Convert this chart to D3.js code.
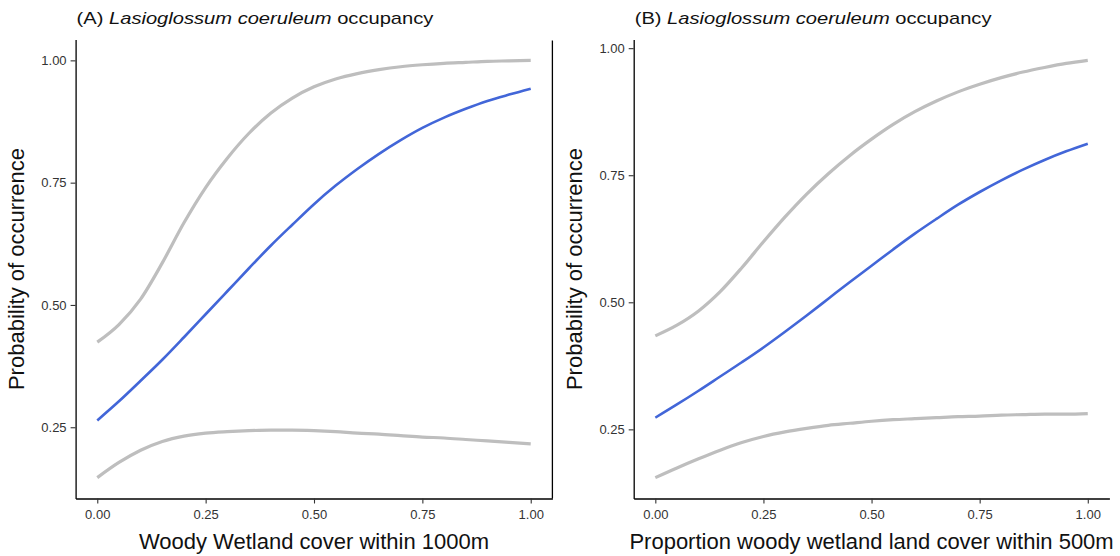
<!DOCTYPE html>
<html>
<head>
<meta charset="utf-8">
<script src="https://cdn.jsdelivr.net/npm/d3@7/dist/d3.min.js"></script>
<style>
  html, body { margin: 0; padding: 0; background: #fff; }
  svg { display: block; font-family: "Liberation Sans", Arial, sans-serif; }
</style>
</head>
<body>
<svg id="chart" width="1120" height="556"></svg>
<script>
// ---------- data ----------
const xGrid = [0, 0.05, 0.1, 0.15, 0.2, 0.25, 0.3, 0.35, 0.4, 0.45, 0.5,
               0.55, 0.6, 0.65, 0.7, 0.75, 0.8, 0.85, 0.9, 0.95, 1.0];

// Panel A: Woody wetland cover within 1000m
const aUpper = [0.424, 0.460, 0.512, 0.586, 0.668, 0.740, 0.800, 0.851, 0.892, 0.923, 0.946,
                0.962, 0.973, 0.981, 0.987, 0.991, 0.994, 0.996, 0.998, 0.999, 1.000];
const aMean  = [0.264, 0.303, 0.345, 0.388, 0.434, 0.481, 0.528, 0.575, 0.621, 0.664, 0.706,
                0.744, 0.778, 0.809, 0.837, 0.862, 0.883, 0.901, 0.917, 0.930, 0.942];
const aLower = [0.147, 0.178, 0.203, 0.221, 0.232, 0.238, 0.241, 0.243, 0.244, 0.244, 0.243,
                0.241, 0.238, 0.236, 0.233, 0.230, 0.228, 0.225, 0.222, 0.219, 0.216];

// Panel B: Proportion woody wetland land cover within 500m
const bUpper = [0.434, 0.455, 0.483, 0.521, 0.568, 0.619, 0.668, 0.713, 0.753, 0.789, 0.821,
                0.850, 0.875, 0.896, 0.914, 0.929, 0.942, 0.953, 0.962, 0.970, 0.976];
const bMean  = [0.273, 0.299, 0.326, 0.354, 0.382, 0.411, 0.442, 0.474, 0.507, 0.540, 0.572,
                0.604, 0.635, 0.664, 0.692, 0.717, 0.740, 0.761, 0.780, 0.797, 0.812];
const bLower = [0.155, 0.174, 0.192, 0.209, 0.224, 0.236, 0.245, 0.252, 0.258, 0.262, 0.266,
                0.269, 0.271, 0.273, 0.275, 0.276, 0.278, 0.279, 0.280, 0.280, 0.281];

const xTicks = [0, 0.25, 0.5, 0.75, 1.0];
const yTicks = [0.25, 0.5, 0.75, 1.0];

const titleLetters = ["(A)", "(B)"];
const speciesName = "Lasioglossum coeruleum";
const titleSuffix = " occupancy";
const xTitles = ["Woody Wetland cover within 1000m", "Proportion woody wetland land cover within 500m"];
const yTitle = "Probability of occurrence";

// ---------- layout ----------
const svg = d3.select("#chart");
const panels = [
  { left: 75.6, right: 552.4, upper: aUpper, mean: aMean, lower: aLower, border: true },
  { left: 633.7, right: 1109.4, upper: bUpper, mean: bMean, lower: bLower, border: false }
];
const plotTop = 39.5, plotBottom = 498.5;

function expand(lo, hi) { const r = hi - lo; return [lo - 0.05 * r, hi + 0.05 * r]; }

panels.forEach((p, i) => {
  const g = svg.append("g");
  const allY = p.upper.concat(p.mean, p.lower);
  const x = d3.scaleLinear().domain(expand(d3.min(xGrid), d3.max(xGrid))).range([p.left, p.right]);
  const y = d3.scaleLinear().domain(expand(d3.min(allY), d3.max(allY))).range([plotBottom, plotTop]);

  const line = d3.line().x((d, j) => x(xGrid[j])).y(d => y(d)).curve(d3.curveMonotoneX);

  // grey CI lines
  [p.upper, p.lower].forEach(s => {
    g.append("path").datum(s).attr("d", line)
      .attr("fill", "none").attr("stroke", "#bebebe").attr("stroke-width", 3.2)
      .attr("stroke-linecap", "butt");
  });
  g.append("path").datum(p.mean).attr("d", line)
    .attr("fill", "none").attr("stroke", "#4266d8").attr("stroke-width", 2.6);

  // axes
  const xAxis = g.append("g").attr("transform", `translate(0,${plotBottom})`)
    .call(d3.axisBottom(x).tickValues(xTicks).tickFormat(d3.format(".2f"))
      .tickSize(5).tickSizeOuter(0).tickPadding(6));
  const yAxis = g.append("g").attr("transform", `translate(${p.left},0)`)
    .call(d3.axisLeft(y).tickValues(yTicks).tickFormat(d3.format(".2f"))
      .tickSize(5).tickSizeOuter(0).tickPadding(4));
  [xAxis, yAxis].forEach(ax => {
    ax.select(".domain").attr("stroke", "#000").attr("stroke-width", 1.3);
    ax.selectAll(".tick line").attr("stroke", "#333").attr("stroke-width", 1.1);
    ax.selectAll(".tick text").attr("fill", "#333").attr("font-size", 13)
      .attr("font-family", "'Liberation Sans', Arial, sans-serif");
  });

  if (p.border) {
    g.append("line").attr("x1", p.right).attr("x2", p.right)
      .attr("y1", plotTop + 1).attr("y2", plotBottom)
      .attr("stroke", "#000").attr("stroke-width", 1.3);
  }

  // panel title
  const t = g.append("text").attr("font-size", 16).attr("fill", "#111");
  t.append("tspan").text(titleLetters[i] + " ");
  t.append("tspan").attr("font-style", "italic").text(speciesName);
  t.append("tspan").text(titleSuffix);
  const w = t.node().getComputedTextLength();
  const sx = 357 / w;
  t.attr("transform", `translate(${p.left + 1},23.5) scale(${sx},1)`);

  // x title
  g.append("text").attr("x", (p.left + p.right) / 2).attr("y", 549)
    .attr("text-anchor", "middle").attr("font-size", 22).attr("fill", "#111")
    .text(xTitles[i]);
  // y title
  g.append("text")
    .attr("transform", `translate(${p.left - 52},${(plotTop + plotBottom) / 2}) rotate(-90)`)
    .attr("text-anchor", "middle").attr("font-size", 22).attr("fill", "#111")
    .text(yTitle);
});
</script>
</body>
</html>
